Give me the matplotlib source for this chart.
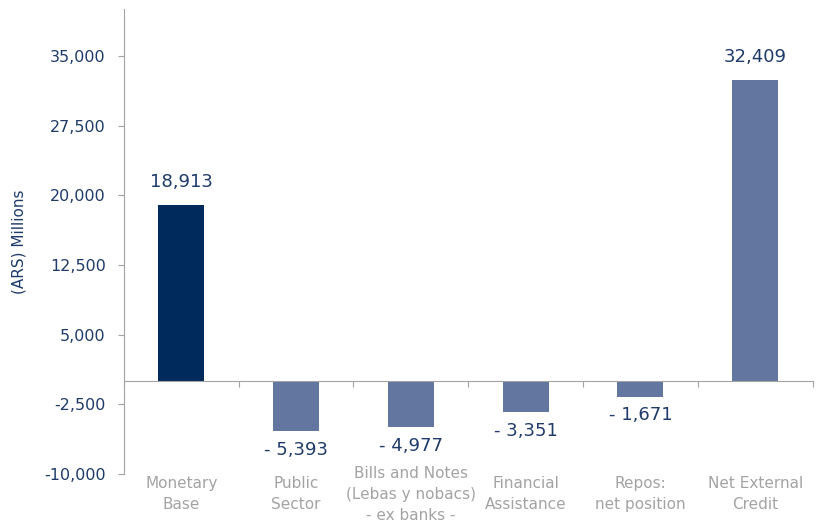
import numpy as np
import matplotlib.pyplot as plt
from matplotlib.ticker import FuncFormatter

# Fuentes de variación de la base monetaria
categorias = ['Monetary\nBase', 'Public\nSector',
              'Bills and Notes\n(Lebas y nobacs)\n- ex banks -',
              'Financial\nAssistance', 'Repos:\nnet position',
              'Net External\nCredit']
valores = [18913, -5393, -4977, -3351, -1671, 32409]
y_ticks = [-10000, -2500, 5000, 12500, 20000, 27500, 35000]

azul_oscuro = '#002A5C'
azul_claro = '#62769F'
texto_azul = '#1F3B6A'
gris = '#A3A3A3'

fig = plt.figure(figsize=(8.2, 5.22), dpi=100)
ax = fig.add_axes([0.151, 0.092, 0.840, 0.890])

x = np.arange(len(categorias))
colores = [azul_oscuro] + [azul_claro] * (len(valores) - 1)
barras = ax.bar(x, valores, width=0.4, color=colores, zorder=2)

ax.set_xlim(-0.5, len(categorias) - 0.5)
ax.set_ylim(-10000, 40000)
ax.set_yticks(y_ticks)
ax.yaxis.set_major_formatter(FuncFormatter(lambda v, p: f'{v:,.0f}'))

# eje x sobre el cero, con marcas entre categorías
ax.spines['bottom'].set_position(('data', 0))
ax.spines['top'].set_visible(False)
ax.spines['right'].set_visible(False)
ax.spines['left'].set_color(gris)
ax.spines['bottom'].set_color(gris)
ax.set_xticks(np.arange(len(categorias) + 1) - 0.5)
ax.set_xticklabels([])
ax.tick_params(axis='x', direction='out', length=4, color=gris)
ax.tick_params(axis='y', direction='out', length=4, color=gris,
               labelsize=11.5, labelcolor=texto_azul, pad=9)

ax.set_ylabel('(ARS) Millions', fontsize=11, color=texto_azul)
ax.yaxis.set_label_coords(-0.141, 0.5)

# etiquetas de categoría debajo del gráfico
trans = ax.get_xaxis_transform()
for xi, cat in zip(x, categorias):
    ax.text(xi, -0.044, cat, transform=trans, ha='center', va='center',
            fontsize=11, color=gris, linespacing=1.5)

# valores sobre/bajo cada barra
for b, v in zip(barras, valores):
    if v >= 0:
        txt = f'{v:,}'
        ax.annotate(txt, (b.get_x() + b.get_width() / 2, v),
                    xytext=(0, 10), textcoords='offset points',
                    ha='center', va='bottom', fontsize=13, color=texto_azul)
    else:
        txt = f'- {abs(v):,}'
        ax.annotate(txt, (b.get_x() + b.get_width() / 2, v),
                    xytext=(0, -7), textcoords='offset points',
                    ha='center', va='top', fontsize=13, color=texto_azul)

fig.savefig('out.png', dpi=100)
